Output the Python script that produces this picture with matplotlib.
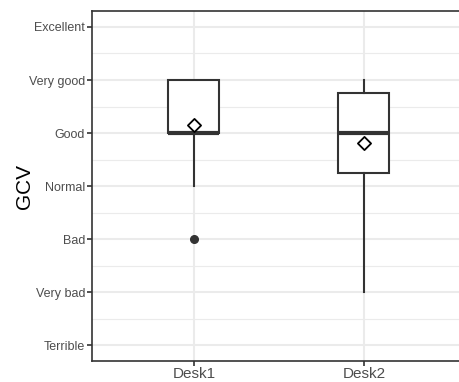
import matplotlib
matplotlib.use("Agg")
import matplotlib.pyplot as plt

plt.rcParams['font.family'] = ['Liberation Sans', 'DejaVu Sans']

# ratings scale, 1 = Terrible ... 7 = Excellent
levels = ["Terrible", "Very bad", "Bad", "Normal", "Good", "Very good", "Excellent"]
desks = ["Desk1", "Desk2"]

# box statistics
whisker_low = [4, 2]
q1 = [5, 4.25]
median = [5, 5]
q3 = [6, 5.75]
whisker_high = [5, 6]
means = [5.15, 4.82]
outliers = [[3], []]

stats = []
for i, name in enumerate(desks):
    stats.append({
        "label": name,
        "whislo": whisker_low[i],
        "q1": q1[i],
        "med": median[i],
        "q3": q3[i],
        "whishi": max(whisker_high[i], q3[i]),
        "fliers": outliers[i],
    })

fig = plt.figure(figsize=(4.6, 3.82), dpi=100)
ax = fig.add_axes([0.2, 0.055, 0.813, 0.916])

dark = "#333333"
ax.bxp(stats, positions=[1, 2], widths=0.3, showcaps=False, patch_artist=True,
       boxprops=dict(facecolor="white", edgecolor=dark, linewidth=1.5),
       medianprops=dict(color=dark, linewidth=3.0, solid_capstyle="butt"),
       whiskerprops=dict(color=dark, linewidth=1.5),
       flierprops=dict(marker="o", markerfacecolor=dark, markeredgecolor=dark, markersize=5.5),
       zorder=3)

ax.scatter([1, 2], means, marker="D", s=45, facecolor="white", edgecolor="black",
           linewidth=1.3, zorder=5)

ax.set_yticks(range(1, 8))
ax.set_yticklabels(levels)
ax.set_yticks([x + 0.5 for x in range(1, 7)], minor=True)
ax.set_xticks([1, 2])
ax.set_xticklabels(desks)
ax.set_xlim(0.4, 2.6)
ax.set_ylim(0.7, 7.3)

ax.grid(True, which="major", color="#EBEBEB", linewidth=1.5, zorder=0)
ax.grid(True, which="minor", axis="y", color="#EBEBEB", linewidth=0.8, zorder=0)
ax.set_axisbelow(True)

for side in ["left", "bottom", "top"]:
    ax.spines[side].set_color(dark)
    ax.spines[side].set_linewidth(1.2)
ax.spines["right"].set_visible(False)

ax.tick_params(axis="y", which="major", labelsize=9, colors=dark, labelcolor="#4D4D4D",
               length=3.5, width=1.2, pad=1.5)
ax.tick_params(axis="x", which="major", labelsize=11, colors=dark, labelcolor="#4D4D4D",
               length=3.5, width=1.2, pad=0.5)
ax.tick_params(which="minor", length=0)

ax.set_ylabel("GCV", fontsize=15, color="black", labelpad=-3.5)

fig.savefig("out.png", dpi=100)
